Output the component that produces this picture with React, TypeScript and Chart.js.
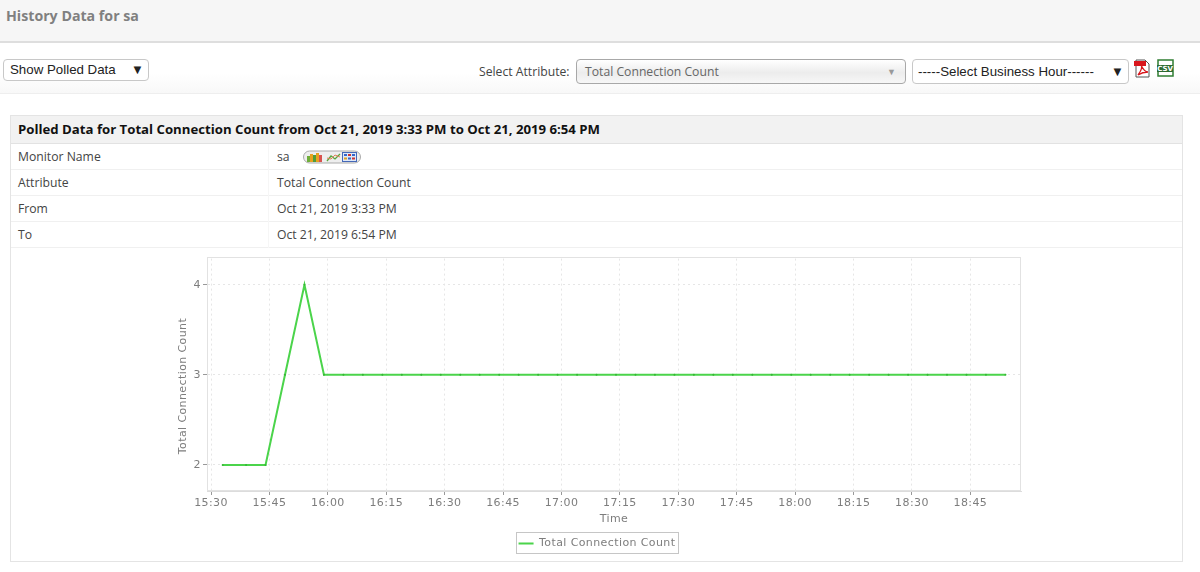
import React, { useEffect, useRef } from "react";
import { Chart, registerables } from "chart.js";

Chart.register(...registerables);

const seriesName = "Total Connection Count";
const xAxisName = "Time";
const pollTimes = [
  "15:33", "15:39", "15:44", "15:49", "15:54", "15:59", "16:04", "16:09", "16:14", "16:19", "16:24", "16:29",
  "16:34", "16:39", "16:44", "16:49", "16:54", "16:59", "17:04", "17:09", "17:14", "17:19", "17:24", "17:29",
  "17:34", "17:39", "17:44", "17:49", "17:54", "17:59", "18:04", "18:09", "18:14", "18:19", "18:24", "18:29",
  "18:34", "18:39", "18:44", "18:49", "18:54",
];
const connectionCounts = [
  2, 2, 2, 3, 4, 3, 3, 3, 3, 3, 3, 3,
  3, 3, 3, 3, 3, 3, 3, 3, 3, 3, 3, 3,
  3, 3, 3, 3, 3, 3, 3, 3, 3, 3, 3, 3,
  3, 3, 3, 3, 3,
];
const xTickLabels = [
  "15:30", "15:45", "16:00", "16:15", "16:30", "16:45", "17:00", "17:15", "17:30", "17:45", "18:00", "18:15", "18:30", "18:45",
];
const yTickValues = [2, 3, 4];
const xMinLabel = "15:29";
const xMaxLabel = "18:58";
const yMin = 1.71;
const yMax = 4.29;

const rows = [
  ["Monitor Name", "sa"],
  ["Attribute", "Total Connection Count"],
  ["From", "Oct 21, 2019 3:33 PM"],
  ["To", "Oct 21, 2019 6:54 PM"],
];

const toMinutes = (t: string) => {
  const [h, m] = t.split(":").map(Number);
  return h * 60 + m;
};
const toLabel = (v: number) => {
  const h = Math.floor(v / 60);
  const m = v % 60;
  return `${h}:${String(m).padStart(2, "0")}`;
};

const CANVAS_L = 140;
const CANVAS_T = 250;
const CANVAS_W = 900;
const CANVAS_H = 312;
const GRID = "#e6e6e6";
const TEXT = "#7d7d7d";
const FONT = "'DejaVu Sans'";
const SPACING = "0.4px";

const chartDecor = {
  id: "chartDecor",
  beforeUpdate(chart: any) {
    chart.ctx.letterSpacing = SPACING;
  },
  beforeDraw(chart: any) {
    chart.ctx.letterSpacing = SPACING;
  },
  afterDraw(chart: any) {
    const c = chart.ctx;
    c.save();
    const hit = chart.legend && chart.legend.legendHitBoxes && chart.legend.legendHitBoxes[0];
    if (hit) {
      c.strokeStyle = "#c6c6c6";
      c.lineWidth = 1;
      c.strokeRect(Math.round(hit.left) - 2.5, Math.round(hit.top) - 5.5, Math.round(hit.width) + 5, Math.round(hit.height) + 10);
    }
    c.translate(43, 136);
    c.rotate(-Math.PI / 2);
    c.fillStyle = TEXT;
    c.font = `11px ${FONT}`;
    c.textAlign = "center";
    c.textBaseline = "middle";
    c.fillText(seriesName, 0, 0);
    c.restore();
  },
};

const abs = (l: number, t: number, extra: React.CSSProperties = {}): React.CSSProperties => ({
  position: "absolute",
  left: l,
  top: t,
  whiteSpace: "nowrap",
  ...extra,
});

const selectStyle = (l: number, t: number, w: number, h: number): React.CSSProperties =>
  abs(l, t, {
    width: w,
    height: h,
    boxSizing: "border-box",
    border: "1px solid #c8c8c8",
    borderRadius: 4,
    background: "#fff",
    fontFamily: "Arial, 'Liberation Sans'",
    fontSize: 13.3,
    color: "#222",
    lineHeight: `${h - 2}px`,
  });

const ROW_TOPS = [144, 170, 196, 222];

export default function App() {
  const ref = useRef<HTMLCanvasElement>(null);
  useEffect(() => {
    const chart = new Chart(ref.current!, {
      type: "line",
      plugins: [chartDecor],
      data: {
        datasets: [
          {
            label: seriesName,
            data: pollTimes.map((t, i) => ({ x: toMinutes(t), y: connectionCounts[i] })),
            borderColor: "#4bd44b",
            backgroundColor: "#4bd44b",
            borderWidth: 2,
            pointRadius: 1,
            pointBackgroundColor: "#35b535",
            pointBorderWidth: 0,
            tension: 0,
          },
        ],
      },
      options: {
        animation: false,
        responsive: false,
        layout: { padding: { left: 33, right: 19, top: 4, bottom: 3 } },
        plugins: {
          tooltip: { enabled: false },
          legend: {
            position: "bottom",
            labels: {
              boxWidth: 15,
              boxHeight: 0,
              padding: 0,
              color: TEXT,
              font: { family: FONT, size: 11 },
            },
          },
        },
        scales: {
          x: {
            type: "linear",
            min: toMinutes(xMinLabel) - 0.03,
            max: toMinutes(xMaxLabel),
            afterBuildTicks: (a: any) => {
              a.ticks = xTickLabels.map((t) => ({ value: toMinutes(t) }));
            },
            afterFit: (a: any) => {
              a.height = 47;
            },
            title: { display: true, text: xAxisName, color: TEXT, font: { family: FONT, size: 11 }, padding: { top: 1, bottom: 12 } },
            ticks: {
              color: TEXT,
              font: { family: FONT, size: 11 },
              maxRotation: 0,
              autoSkip: false,
              padding: 2,
              callback: (v: any) => toLabel(Number(v)),
            },
            border: { color: "#dcdcdc", width: 1, dash: [2, 3] },
            grid: { color: GRID, tickColor: "#999", tickLength: 4 } as any,
          },
          y: {
            type: "linear",
            min: yMin,
            max: yMax,
            afterBuildTicks: (a: any) => {
              a.ticks = yTickValues.map((value) => ({ value }));
            },
            afterFit: (a: any) => {
              a.width = 34;
            },
            ticks: {
              color: TEXT,
              font: { family: FONT, size: 11 },
              padding: 2,
              callback: (v: any) => String(v),
            },
            border: { color: "#dcdcdc", width: 1, dash: [2, 3] },
            grid: { color: GRID, tickColor: "#999", tickLength: 4 } as any,
          },
        },
      },
    } as any);
    chart.update();
    return () => chart.destroy();
  }, []);

  return (
    <div
      style={{
        position: "fixed",
        inset: 0,
        width: 1200,
        height: 572,
        background: "#fff",
        overflow: "hidden",
        fontFamily: "'Open Sans'",
        fontSize: 12.2,
        color: "#444",
      }}
    >
      <div style={abs(0, 0, { width: 1200, height: 41, background: "#f6f6f6", borderBottom: "2px solid #dedede" })} />
      <div style={abs(6, 6, { fontSize: 14.2, fontWeight: 700, color: "#808080", lineHeight: "20px" })}>History Data for sa</div>

      <div style={abs(0, 43, { width: 1200, height: 50, background: "linear-gradient(#fff 60%, #f8f8f8)", borderBottom: "1px solid #eee" })} />
      <div style={selectStyle(3, 59, 146, 22)}>
        <span style={abs(6, 0)}>Show Polled Data</span>
        <span style={abs(127, 0, { fontSize: 13 })}>▼</span>
      </div>
      <div style={abs(479, 63, { fontSize: 12.2, color: "#444", lineHeight: "17px" })}>Select Attribute:</div>
      <div
        style={{
          ...selectStyle(576, 59, 330, 25),
          border: "1px solid #a8a8a8",
          background: "linear-gradient(#fff, #ececec 55%, #f7f7f7)",
          fontFamily: "'Open Sans'",
          fontSize: 12.2,
          color: "#666",
        }}
      >
        <span style={abs(8, 0)}>Total Connection Count</span>
        <span style={abs(310, 0, { fontSize: 9, color: "#999" })}>▼</span>
      </div>
      <div style={selectStyle(912, 59, 217, 25)}>
        <span style={abs(5, 0)}>-----Select Business Hour------</span>
        <span style={abs(198, 0, { fontSize: 13 })}>▼</span>
      </div>
      <svg style={abs(1133, 59)} width={18} height={20} viewBox="0 0 18 20">
        <path d="M3 1H12L16 5V18H3Z" fill="#fff" stroke="#555" strokeWidth="1" />
        <rect x="1" y="2" width="12" height="5" fill="#d8161c" />
        <path d="M5 16C8 12 9 9 8.500 7C11 12 13 13 15 13C11 13 8 14 5 16Z" fill="none" stroke="#d8161c" strokeWidth="1.300" />
      </svg>
      <svg style={abs(1156, 59)} width={18} height={18} viewBox="0 0 18 18">
        <rect x="2" y="1" width="15" height="16" fill="#fff" stroke="#2f7d32" strokeWidth="1.500" />
        <rect x="1" y="6" width="16" height="7" fill="#2f6b32" />
        <text x="9" y="11.500" fontSize="7" fontWeight="700" textAnchor="middle" fill="#fff" fontFamily="'DejaVu Sans'">CSV</text>
      </svg>

      <div style={abs(10, 115, { width: 1173, height: 447, boxSizing: "border-box", border: "1px solid #e4e4e4" })} />
      <div style={abs(11, 116, { width: 1171, height: 27, background: "#f2f2f2", borderBottom: "1px solid #e2e2e2" })} />
      <div style={abs(18, 119, { fontSize: 13.2, fontWeight: 700, color: "#111", lineHeight: "20px" })}>
        Polled Data for Total Connection Count from Oct 21, 2019 3:33 PM to Oct 21, 2019 6:54 PM
      </div>
      {rows.map((r, i) => (
        <React.Fragment key={r[0]}>
          <div style={abs(18, ROW_TOPS[i] + 4, { lineHeight: "18px" })}>{r[0]}</div>
          <div style={abs(277, ROW_TOPS[i] + 4, { lineHeight: "18px" })}>{r[1]}</div>
          <div style={abs(11, ROW_TOPS[i] + 25, { width: 1171, height: 1, background: "#f0f0f0" })} />
        </React.Fragment>
      ))}
      <div style={abs(268, 144, { width: 1, height: 104, background: "#f6f6f6" })} />
      <svg style={abs(303, 150)} width={58} height={14} viewBox="0 0 58 14">
        <rect x="0.500" y="1" width="57" height="12" rx="6" fill="#eeeeee" stroke="#aaaaaa" />
        <rect x="4" y="6" width="3" height="6" fill="#6fae3a" />
        <rect x="7" y="4" width="3" height="8" fill="#e7a21f" />
        <rect x="10" y="5" width="3" height="7" fill="#4f9d3a" />
        <rect x="13" y="3" width="3" height="9" fill="#e7a21f" />
        <rect x="16" y="5" width="3" height="7" fill="#d9534f" />
        <path d="M24 11L28 6L32 9L37 4" fill="none" stroke="#5aa63a" strokeWidth="1.300" />
        <path d="M24 8L28 9L32 5L37 7" fill="none" stroke="#e0805a" strokeWidth="1" />
        <rect x="39.500" y="2.500" width="14" height="9" fill="#dfe8f7" stroke="#4468b8" />
        <rect x="41" y="4" width="3" height="2" fill="#3366cc" />
        <rect x="45" y="4" width="3" height="2" fill="#cc3333" />
        <rect x="49" y="4" width="3" height="2" fill="#3366cc" />
        <rect x="41" y="7.500" width="3" height="2" fill="#e0a020" />
        <rect x="45" y="7.500" width="3" height="2" fill="#3366cc" />
        <rect x="49" y="7.500" width="3" height="2" fill="#cc3333" />
      </svg>

      <canvas
        ref={ref}
        width={CANVAS_W}
        height={CANVAS_H}
        style={abs(CANVAS_L, CANVAS_T, { width: CANVAS_W, height: CANVAS_H, display: "block" })}
      />
      <div style={abs(207, 257, { width: 814, height: 234, boxSizing: "border-box", border: "1px solid #e2e2e2", pointerEvents: "none" })} />
    </div>
  );
}
